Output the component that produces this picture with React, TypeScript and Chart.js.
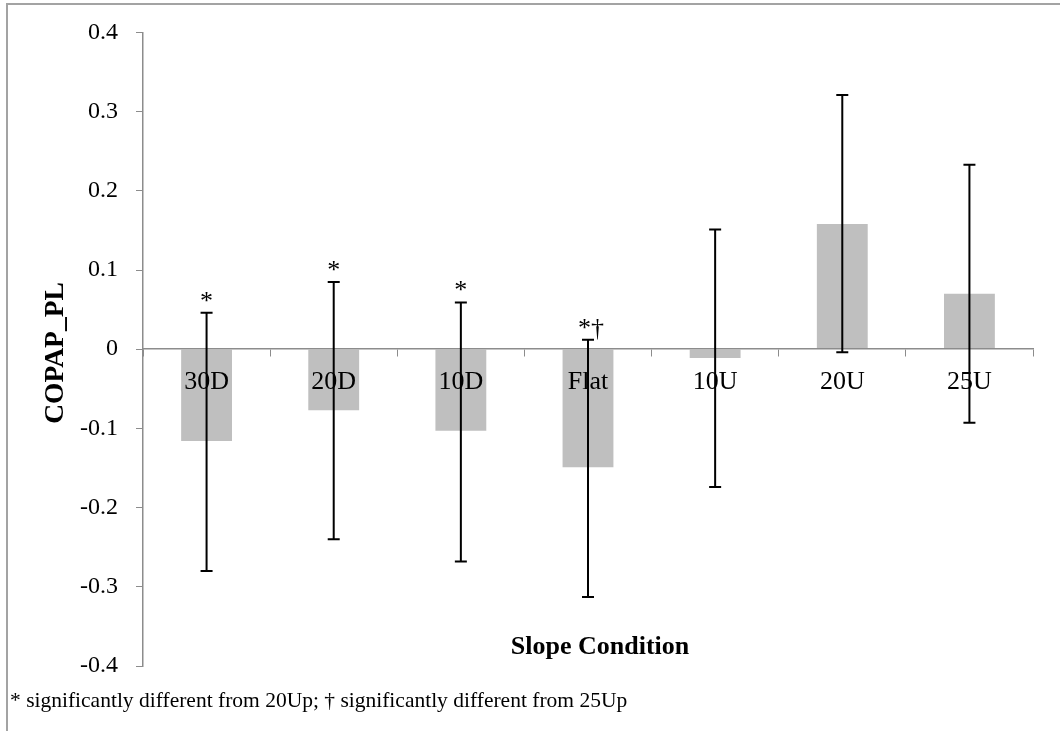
import React, { useEffect, useRef } from 'react';
import { Chart, registerables } from 'chart.js';

Chart.register(...registerables);

const categories = ['30D', '20D', '10D', 'Flat', '10U', '20U', '25U'];
const means = [-0.116, -0.077, -0.103, -0.149, -0.011, 0.158, 0.07];
const errUpper = [0.046, 0.085, 0.059, 0.012, 0.151, 0.321, 0.233];
const errLower = [-0.28, -0.24, -0.268, -0.313, -0.174, -0.004, -0.093];
const sigMarks = ['*', '*', '*', '*†', '', '', ''];
const yAxisTitle = 'COPAP_PL';
const xAxisTitle = 'Slope Condition';
const footnote = '* significantly different from 20Up; † significantly different from 25Up';

const SERIF = '"Liberation Serif", "Times New Roman", serif';
const AXIS = '#8c8c8c';

const overlayPlugin = {
  id: 'overlay',
  beforeDraw(chart: any) {
    const ctx = chart.ctx;
    ctx.save();
    ctx.strokeStyle = '#a3a3a3';
    ctx.lineWidth = 2;
    ctx.beginPath();
    ctx.moveTo(6, 4);
    ctx.lineTo(chart.width, 4);
    ctx.moveTo(7, 3);
    ctx.lineTo(7, chart.height);
    ctx.stroke();
    ctx.restore();
  },
  afterDraw(chart: any) {
    const ctx = chart.ctx;
    const meta = chart.getDatasetMeta(0);
    const y = chart.scales.y;
    ctx.save();
    ctx.strokeStyle = '#000';
    ctx.fillStyle = '#000';
    ctx.lineWidth = 2;
    meta.data.forEach((bar: any, i: number) => {
      const x = bar.x;
      const yt = y.getPixelForValue(errUpper[i]);
      const yb = y.getPixelForValue(errLower[i]);
      ctx.beginPath();
      ctx.moveTo(x, yt);
      ctx.lineTo(x, yb);
      ctx.moveTo(x - 6, yt);
      ctx.lineTo(x + 6, yt);
      ctx.moveTo(x - 6, yb);
      ctx.lineTo(x + 6, yb);
      ctx.stroke();
      const m = sigMarks[i];
      if (m) {
        ctx.font = `26px ${SERIF}`;
        ctx.textAlign = 'center';
        ctx.textBaseline = 'alphabetic';
        ctx.fillText(m, x + (m.length > 1 ? 3 : 0), yt - 4);
      }
    });
    ctx.font = `bold 27.5px ${SERIF}`;
    ctx.textAlign = 'center';
    ctx.textBaseline = 'middle';
    ctx.save();
    ctx.translate(56, 353);
    ctx.rotate(-Math.PI / 2);
    ctx.fillText(yAxisTitle, 0, 0);
    ctx.restore();
    ctx.font = `bold 26px ${SERIF}`;
    ctx.fillText(xAxisTitle, 600, 647);
    ctx.font = `21.5px ${SERIF}`;
    ctx.textAlign = 'left';
    ctx.textBaseline = 'alphabetic';
    ctx.fillText(footnote, 10, 707);
    ctx.restore();
  },
};

export default function App() {
  const canvasRef = useRef<HTMLCanvasElement | null>(null);

  useEffect(() => {
    if (!canvasRef.current) return;
    const chart = new Chart(canvasRef.current, {
      type: 'bar',
      data: {
        labels: categories,
        datasets: [
          {
            data: means,
            backgroundColor: '#bfbfbf',
            borderWidth: 0,
            barPercentage: 0.4,
            categoryPercentage: 1.0,
          },
        ],
      },
      options: {
        responsive: false,
        animation: false,
        devicePixelRatio: 1,
        layout: { padding: { left: 0, top: 32, right: 27, bottom: 65 } },
        plugins: {
          legend: { display: false },
          tooltip: { enabled: false },
        },
        scales: {
          x: {
            position: { y: 0 } as any,
            grid: {
              drawOnChartArea: false,
              drawTicks: true,
              tickLength: 7,
              color: AXIS,
              offset: true,
              z: 1,
            } as any,
            border: { color: AXIS, width: 1.5, z: 1 } as any,
            ticks: {
              font: { family: SERIF, size: 26 },
              color: '#000',
              padding: 10,
              maxRotation: 0,
              autoSkip: false,
              z: 1,
            } as any,
          },
          y: {
            min: -0.4,
            max: 0.4,
            afterFit(scale: any) {
              scale.width = 143;
            },
            ticks: {
              stepSize: 0.1,
              font: { family: SERIF, size: 24 },
              color: '#000',
              padding: 18,
              callback: (v: any) => {
                const r = Math.round(Number(v) * 10) / 10;
                return r === 0 ? '0' : String(r);
              },
            },
            grid: {
              drawOnChartArea: false,
              drawTicks: true,
              tickLength: 7,
              color: AXIS,
            },
            border: { color: AXIS, width: 1.5 },
          },
        },
      },
      plugins: [overlayPlugin],
    });
    return () => chart.destroy();
  }, []);

  return (
    <div style={{ position: 'fixed', top: 0, left: 0, width: 1060, height: 731, background: '#fff' }}>
      <canvas ref={canvasRef} width={1060} height={731} style={{ display: 'block' }} />
    </div>
  );
}
